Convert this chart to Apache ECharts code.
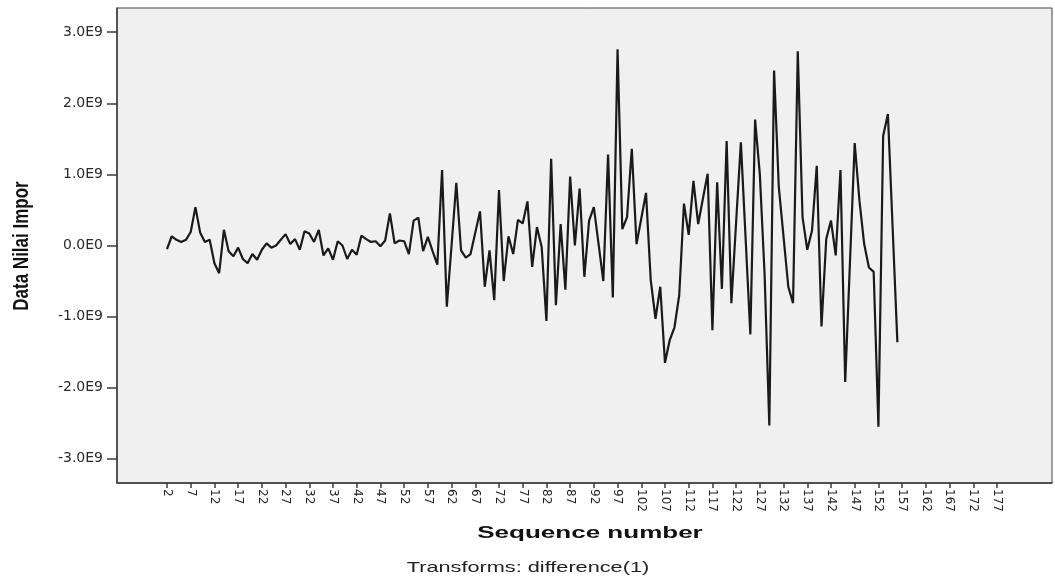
<!DOCTYPE html>
<html>
<head>
<meta charset="utf-8">
<script src="https://cdn.jsdelivr.net/npm/echarts@6/dist/echarts.min.js"></script>
<style>
html,body{margin:0;padding:0;background:#fff;}
#chart{width:1055px;height:580px;}
</style>
</head>
<body>
<div id="chart"></div>
<script>
// Sequence numbers start at 2 (difference(1) drops the first case)
const firstSequence = 2;
// Differenced import values, in units of 1E9
const diffValuesE9 = [
 -0.05, 0.13, 0.08, 0.05, 0.08, 0.19, 0.54, 0.18, 0.05, 0.08,
 -0.25,-0.39, 0.22,-0.08,-0.15,-0.03,-0.19,-0.25,-0.12,-0.20,
 -0.06, 0.03,-0.03, 0.00, 0.08, 0.16, 0.02, 0.09,-0.06, 0.20,
  0.17, 0.05, 0.22,-0.14,-0.04,-0.20, 0.06, 0.00,-0.19,-0.06,
 -0.13, 0.14, 0.09, 0.05, 0.06,-0.01, 0.07, 0.45, 0.03, 0.07,
  0.06,-0.12, 0.35, 0.39,-0.08, 0.12,-0.08,-0.27, 1.06,-0.86,
  0.00, 0.88,-0.07,-0.17,-0.12, 0.18, 0.48,-0.58,-0.07,-0.77,
  0.78,-0.50, 0.13,-0.12, 0.36, 0.31, 0.62,-0.30, 0.26,-0.02,
 -1.06, 1.22,-0.84, 0.30,-0.62, 0.97, 0.00, 0.80,-0.44, 0.35,
  0.54, 0.02,-0.50, 1.28,-0.73, 2.76, 0.23, 0.40, 1.36, 0.02,
  0.38, 0.74,-0.49,-1.03,-0.58,-1.65,-1.33,-1.15,-0.70, 0.59,
  0.15, 0.91, 0.30, 0.66, 1.01,-1.19, 0.89,-0.61, 1.47,-0.81,
  0.33, 1.45, 0.10,-1.25, 1.77, 1.00,-0.40,-2.53, 2.46, 0.82,
  0.12,-0.58,-0.81, 2.73, 0.40,-0.06, 0.21, 1.12,-1.14, 0.09,
  0.35,-0.14, 1.06,-1.92,-0.24, 1.44, 0.63, 0.02,-0.31,-0.37,
 -2.55, 1.54, 1.85, 0.25,-1.36
];
// x-axis tick labels (sequence numbers)
const xTickLabels = [2,7,12,17,22,27,32,37,42,47,52,57,62,67,72,77,82,87,92,97,102,107,112,117,122,127,132,137,142,147,152,157,162,167,172,177];
// y-axis tick values, in units of 1E9
const yTickValuesE9 = [-3,-2,-1,0,1,2,3];

const E9 = 1e9;
const seriesData = diffValuesE9.map((v, i) => [firstSequence + i, v * E9]);
const yTicks = yTickValuesE9.map(v => v * E9);

function yFmt(v) {
  const b = Math.round(v / E9 * 10) / 10;
  if (b === 0) return '0.0E0';
  return b.toFixed(1) + 'E9';
}

const chart = echarts.init(document.getElementById('chart'), null, {renderer: 'canvas'});
chart.setOption({
  animation: false,
  backgroundColor: '#ffffff',
  grid: {
    left: 117, top: 8, right: 3, bottom: 97,
    show: true, backgroundColor: '#f0f0f0', borderColor: '#444', borderWidth: 1
  },
  xAxis: {
    type: 'value',
    min: -8.54, max: 188.6,
    splitLine: {show: false},
    axisLine: {show: true, onZero: false, lineStyle: {color: '#3a3a3a', width: 1.5}},
    axisTick: {show: true, length: 5, customValues: xTickLabels, lineStyle: {color: '#3a3a3a', width: 1.5}},
    axisLabel: {
      customValues: xTickLabels, rotate: -90, margin: 6,
      fontFamily: '"DejaVu Sans", sans-serif', fontSize: 12, color: '#222'
    }
  },
  yAxis: {
    type: 'value',
    min: -3.34 * E9, max: 3.34 * E9,
    splitLine: {show: false},
    axisLine: {show: true, onZero: false, lineStyle: {color: '#3a3a3a', width: 1.5}},
    axisTick: {show: true, length: 10, customValues: yTicks, lineStyle: {color: '#3a3a3a', width: 1.5}},
    axisLabel: {
      customValues: yTicks, formatter: yFmt, margin: 14,
      fontFamily: '"DejaVu Sans", sans-serif', fontSize: 14, color: '#2a2a2a'
    }
  },
  series: [{
    type: 'line',
    data: seriesData,
    showSymbol: false,
    lineStyle: {color: '#1a1a1a', width: 2.2},
    clip: true
  }],
  graphic: [
    {
      type: 'text', x: 22, y: 246, rotation: Math.PI / 2, scaleY: 1.3,
      style: {
        text: 'Data Nilai Impor', fill: '#111',
        font: 'bold 17px "Liberation Sans", Arial, sans-serif',
        align: 'center', verticalAlign: 'middle'
      }
    },
    {
      type: 'text', x: 590, y: 533, scaleX: 1.53,
      style: {
        text: 'Sequence number', fill: '#111',
        font: 'bold 17px "Liberation Sans", Arial, sans-serif',
        align: 'center', verticalAlign: 'middle'
      }
    },
    {
      type: 'text', x: 528, y: 568, scaleX: 1.55,
      style: {
        text: 'Transforms: difference(1)', fill: '#222',
        font: '14px "Liberation Sans", Arial, sans-serif',
        align: 'center', verticalAlign: 'middle'
      }
    }
  ]
});
</script>
</body>
</html>
